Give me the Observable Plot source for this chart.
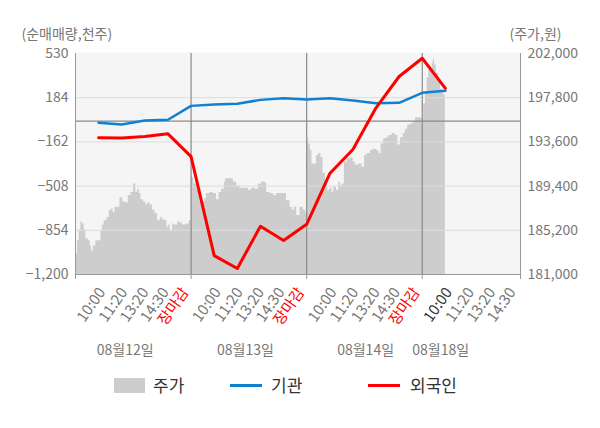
<!DOCTYPE html>
<html><head><meta charset="utf-8">
<script src="https://cdn.jsdelivr.net/npm/d3@7"></script>
<script src="https://cdn.jsdelivr.net/npm/@observablehq/plot@0.6"></script>
<style>
body{margin:0;background:#fff;font-family:"Noto Sans CJK KR","Noto Sans",sans-serif;}
#wrap{position:relative;width:600px;height:428px;overflow:hidden;}
.sw{position:absolute;}
.lt{position:absolute;font-size:17px;color:#333;line-height:20px;top:375px;}
</style></head><body>
<div id="wrap"><div id="chart"></div>
<div class="sw" style="left:114px;top:378px;width:31px;height:15px;background:#cdcdcd"></div>
<div class="lt" style="left:153px">주가</div>
<div class="sw" style="left:230px;top:384px;width:32px;height:3px;background:#1080d0"></div>
<div class="lt" style="left:271px">기관</div>
<div class="sw" style="left:368px;top:384px;width:32px;height:3px;background:#ff0000"></div>
<div class="lt" style="left:410px">외국인</div>
</div>
<script>
// ---- data ----
const leftTicks = [-1200, -854, -508, -162, 184, 530];
const priceTicks = [181000, 185200, 189400, 193600, 197800, 202000];
const dayLabels = ["08월12일", "08월13일", "08월14일", "08월18일"];
const dateSlots = [2.15, 7.35, 12.55, 15.8];
const timeLabels = ["10:00", "11:20", "13:20", "14:30", "장마감"];
const timeLabelSlots = [1.15, 2.1, 3.02, 3.9, 4.75];
const xEnd = 19.25;
const lineSlots = [1,2,3,4,5,6,7,8,9,10,11,12,13,14,15,16];
const foreign = [-130,-131,-120,-99,-277,-1052,-1153,-822,-934,-807,-410,-222,105,350,493,257];
const inst = [-13,-26,5,11,120,131,136,167,180,170,180,162,141,144,222,238];
const priceSlot = [
 0,0.03,0.09,0.16,0.23,0.29,0.38,0.45,0.55,0.64,0.69,0.77,0.88,1.03,1.1,1.16,1.24,1.36,1.46,1.55,1.63,1.71,1.81,1.92,2.04,2.18,2.28,2.4,2.51,2.61,2.68,2.76,2.83,2.94,3.05,3.12,3.23,3.33,3.44,3.55,3.67,3.77,3.87,3.96,4.03,4.1,4.2,4.27,4.42,4.53,4.63,4.78,4.92,4.98,
 5.01,5.05,5.11,5.26,5.4,5.6,5.67,5.82,5.96,6.1,6.21,6.32,6.44,6.49,6.68,6.83,6.97,7.12,7.33,7.48,7.62,7.77,7.91,8.05,8.2,8.27,8.42,8.56,8.7,8.92,9.06,9.13,9.28,9.38,9.47,9.57,9.71,9.86,9.97,
 10.02,10.09,10.16,10.23,10.33,10.42,10.52,10.62,10.71,10.81,10.91,11.0,11.1,11.17,11.29,11.39,11.46,11.53,11.63,11.75,11.89,12.01,12.11,12.25,12.4,12.5,12.61,12.76,12.87,13.02,13.12,13.22,13.33,13.45,13.55,13.7,13.84,13.94,14.06,14.17,14.27,14.37,14.49,14.61,14.71,14.85,14.95,14.98,
 15.06,15.14,15.21,15.28,15.36,15.43,15.47,15.53,15.61,15.71,15.79,15.86,15.93,15.98,16.0];
const price = [
 182900,182900,184200,185200,186000,185800,185200,184400,184200,183700,183200,183700,184200,184200,185100,185700,186100,186400,187100,187200,186900,187400,187400,188300,187900,187800,188500,188800,189600,188800,189100,188700,188100,187900,187600,187800,187600,187100,186800,186100,186400,186200,186100,185500,185700,185100,185800,185700,186000,185900,185700,185800,186100,186100,
 190400,190200,189600,189000,187900,188200,188700,188800,188700,188100,188800,189100,189800,190100,190100,189800,189400,189200,189200,189000,189200,189100,189600,189800,189700,188800,188700,188500,188700,188700,188700,188000,187400,187100,187400,186600,187400,187100,186800,
 193900,193400,192800,191500,191500,192300,192500,192100,190600,189900,189000,189200,188800,189300,189000,189800,189400,189600,191700,192000,192100,191700,191400,191500,191200,192300,192500,192800,192900,192800,192500,193400,193900,194000,194200,194400,194200,193300,194000,194400,194800,195200,195300,195500,195900,195900,195800,195800,
 197200,198300,199700,200400,200600,201000,201400,200900,200100,199300,198600,198300,198000,198200,198200];

// ---- derived ----
const lo = leftTicks[0], hi = leftTicks[leftTicks.length - 1];
const plo = priceTicks[0], phi = priceTicks[priceTicks.length - 1];
const toLeft = p => lo + (p - plo) * (hi - lo) / (phi - plo);
const fmt = d3.format(",");
const priceData = priceSlot.map((s, i) => ({s, v: toLeft(price[i])}));
const perDay = timeLabels.length;
const xTicks = [];
dayLabels.forEach((d, di) => {
  timeLabels.forEach((t, j) => {
    const slot = di * perDay + timeLabelSlots[j];
    if (slot <= xEnd) xTicks.push({slot, label: t, kind: j === perDay - 1 ? "close" : (di === dayLabels.length - 1 && j === 0 ? "now" : "time")});
  });
});
const dayBounds = [1, 2, 3].map(k => k * perDay);
const dates = dayLabels.map((d, i) => ({s: dateSlots[i], d}));
const fam = '"Noto Sans CJK KR","Noto Sans",sans-serif';
const tickText = (kind, fill) => Plot.text(xTicks.filter(d => d.kind === kind), {
  x: "slot", text: "label", frameAnchor: "bottom", lineAnchor: "middle",
  rotate: -55, textAnchor: "end", dy: 15, fill, fontSize: 15
});

const chart = Plot.plot({
  width: 600, height: 360,
  marginLeft: 75, marginRight: 80, marginTop: 53, marginBottom: 86,
  style: {fontFamily: fam, fontSize: "14px", background: "#fff"},
  x: {domain: [0, xEnd], axis: null, label: null},
  y: {domain: [lo, hi], axis: null, label: null},
  marks: [
    Plot.frame({fill: "#f5f5f5", stroke: null, insetTop: -1}),
    Plot.areaY(priceData, {x: "s", y1: lo, y2: "v", fill: "#cdcdcd", curve: "step-after"}),
    Plot.ruleY(leftTicks.slice(1, -1), {stroke: "#dcdcdc", strokeWidth: 1}),
    Plot.ruleY([0], {stroke: "#8a8a8a", strokeWidth: 1.3}),
    Plot.ruleX(dayBounds, {stroke: "#8a8a8a", strokeWidth: 1.2}),
    Plot.ruleX([0, xEnd], {stroke: "#999"}),
    Plot.ruleY([lo], {stroke: "#999"}),
    Plot.axisX({ticks: [0, ...dayBounds, xEnd], tickSize: 5, tickFormat: () => "", stroke: "#999", label: null}),
    Plot.line(inst, {x: (d, i) => lineSlots[i], y: d => d, stroke: "#1080d0", strokeWidth: 2.5}),
    Plot.line(foreign, {x: (d, i) => lineSlots[i], y: d => d, stroke: "#ff0000", strokeWidth: 3}),
    Plot.axisY({ticks: leftTicks, anchor: "left", tickSize: 0, tickPadding: 7, tickFormat: fmt, fill: "#777", fontSize: 14, label: null}),
    Plot.axisY({ticks: leftTicks, anchor: "right", tickSize: 0, tickPadding: 7, tickFormat: d => fmt(priceTicks[leftTicks.indexOf(d)]), fill: "#777", fontSize: 14, label: null}),
    tickText("time", "#777"),
    tickText("now", "#333"),
    tickText("close", "#ff0000"),
    Plot.text(dates, {x: "s", text: "d", frameAnchor: "bottom", lineAnchor: "middle", dy: 76, fill: "#777", fontSize: 14}),
    Plot.text(["(순매매량,천주)"], {frameAnchor: "top-left", lineAnchor: "middle", textAnchor: "start", dx: -54, dy: -19, fill: "#777", fontSize: 14}),
    Plot.text(["(주가,원)"], {frameAnchor: "top-right", lineAnchor: "middle", textAnchor: "start", dx: -11, dy: -19, fill: "#777", fontSize: 14})
  ]
});
document.getElementById("chart").appendChild(chart);
</script>
</body></html>
